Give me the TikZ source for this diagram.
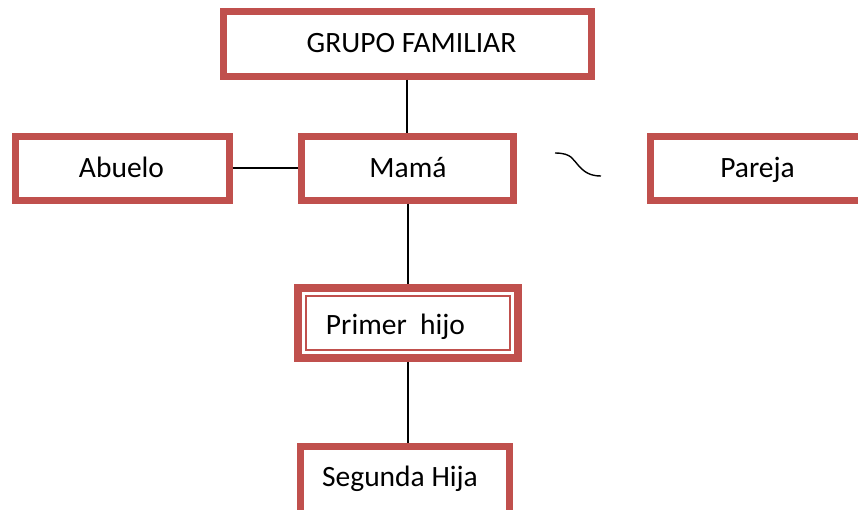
\documentclass[tikz,border=0pt]{standalone}
\usepackage{fontspec}
\setmainfont{Carlito}
\definecolor{boxred}{HTML}{C0504D}
\begin{document}
\begin{tikzpicture}[x=1pt,y=-1pt,
  box/.style={draw=boxred,line width=7pt,fill=white,rectangle,inner sep=0pt},
  lbl/.style={anchor=base,inner sep=0pt,font=\fontsize{29.5}{35}\selectfont},
  conn/.style={draw=black,line width=1.4pt}]
\useasboundingbox (0,0) rectangle (858,509);
\clip (0,0) rectangle (858,509);
% boxes
\node[box,minimum width=368pt,minimum height=65pt] (g) at (407,43.5) {};
\node[box,minimum width=212pt,minimum height=64pt] (m) at (407.5,168) {};
\node[box,minimum width=214pt,minimum height=64pt] (a) at (122,168) {};
\node[box,minimum width=400pt,minimum height=64pt] (pa) at (850,168) {};
\node[box,line width=8pt,minimum width=220pt,minimum height=70pt] (p) at (408,323) {};
\node[draw=boxred,line width=1.6pt,rectangle,inner sep=0pt,minimum width=204pt,minimum height=54pt] (pin) at (408,323) {};
\node[box,minimum width=208.5pt,minimum height=80pt] (s) at (404.75,486.5) {};
% texts
\node[lbl] (tg) at (411.5,52) {GRUPO FAMILIAR};
\node[lbl] (tm) at (408,177) {Mamá};
\node[lbl] (ta) at (121.5,177) {Abuelo};
\node[lbl] (tpa) at (757.5,177) {Pareja};
\node[lbl] (tp) at (395.5,334) {Primer\ \ hijo};
\node[lbl] (ts) at (400,486) {Segunda Hija};
% connectors
\draw[conn] (g.south) -- (g.south |- m.north);
\draw[conn] (a.east) -- (m.west);
\draw[conn] (m.south -| p.north) -- (p.north);
\draw[conn] (p.south) -- (p.south |- s.north);
% tilde
\coordinate (t1) at (555,153);
\coordinate (t2) at (601,176);
\draw[line width=1.4pt] (t1) .. controls (572,153) and (573,160) .. (578,165) .. controls (584,172) and (590,176) .. (t2);
\end{tikzpicture}
\end{document}
